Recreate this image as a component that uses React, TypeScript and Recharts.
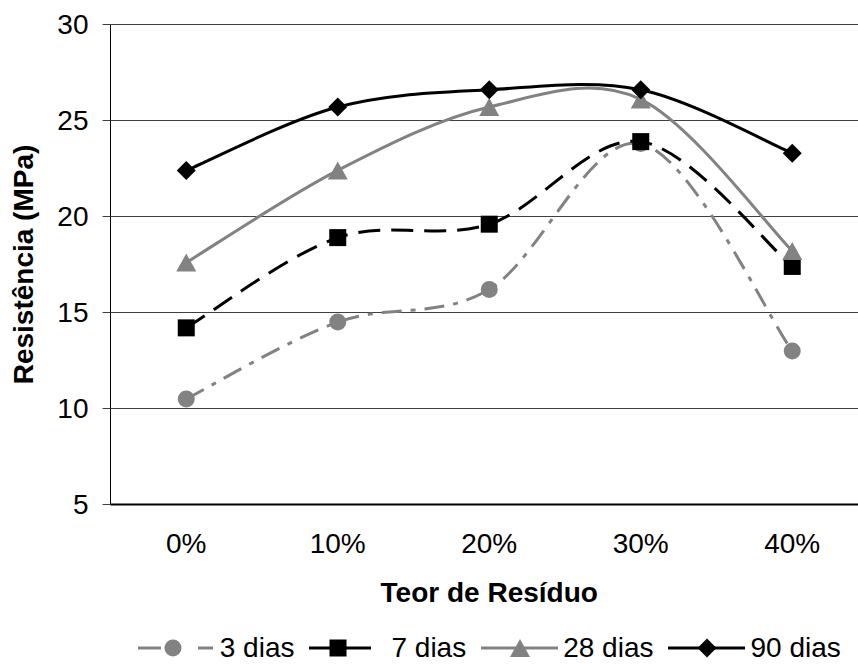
import { LineChart, Line, XAxis, YAxis, CartesianGrid, Legend } from "recharts";

const categories = ["0%", "10%", "20%", "30%", "40%"];
const dias3 = [10.5, 14.5, 16.2, 23.8, 13.0];
const dias7 = [14.2, 18.9, 19.6, 23.9, 17.4];
const dias28 = [17.6, 22.4, 25.7, 26.1, 18.2];
const dias90 = [22.4, 25.7, 26.6, 26.6, 23.3];
const yTicks = [5, 10, 15, 20, 25, 30];

const FONT = '"Liberation Sans", Arial, sans-serif';
const GRAY = "#828282";
const BLACK = "#000000";

type Marker = "circle" | "square" | "triangle" | "diamond";

const series: {
  key: string;
  name: string;
  color: string;
  dash?: string;
  marker: Marker;
  legendDash?: string;
  legendMarkerX: number;
}[] = [
  { key: "d3", name: "3 dias", color: GRAY, dash: "20 9 5 9", marker: "circle", legendDash: "23 37 15 20", legendMarkerX: 35 },
  { key: "d7", name: "7 dias", color: BLACK, dash: "22 11", marker: "square", legendDash: "62 20", legendMarkerX: 29 },
  { key: "d28", name: "28 dias", color: GRAY, marker: "triangle", legendMarkerX: 39 },
  { key: "d90", name: "90 dias", color: BLACK, marker: "diamond", legendMarkerX: 39 },
];

const data = categories.map((cat, i) => ({
  cat,
  d3: dias3[i],
  d7: dias7[i],
  d28: dias28[i],
  d90: dias90[i],
}));

// Excel-style smoothing: cardinal spline, control points at 1/6 of neighbour difference
function excelCurve(context: any) {
  let xs: number[] = [];
  let ys: number[] = [];
  return {
    areaStart() {},
    areaEnd() {},
    lineStart() {
      xs = [];
      ys = [];
    },
    point(x: number, y: number) {
      xs.push(+x);
      ys.push(+y);
    },
    lineEnd() {
      const n = xs.length;
      if (!n) return;
      context.moveTo(xs[0], ys[0]);
      for (let i = 0; i < n - 1; i++) {
        const p = Math.max(i - 1, 0);
        const q = Math.min(i + 2, n - 1);
        context.bezierCurveTo(
          xs[i] + (xs[i + 1] - xs[p]) / 6,
          ys[i] + (ys[i + 1] - ys[p]) / 6,
          xs[i + 1] - (xs[q] - xs[i]) / 6,
          ys[i + 1] - (ys[q] - ys[i]) / 6,
          xs[i + 1],
          ys[i + 1]
        );
      }
    },
  };
}

function MarkerShape({ kind, cx, cy, color }: { kind: Marker; cx: number; cy: number; color: string }) {
  if (kind === "circle") return <circle cx={cx} cy={cy} r={8.5} fill={color} />;
  if (kind === "square") return <rect x={cx - 8.5} y={cy - 8.5} width={17} height={17} fill={color} />;
  if (kind === "triangle")
    return <polygon points={`${cx},${cy - 9} ${cx + 10},${cy + 9} ${cx - 10},${cy + 9}`} fill={color} />;
  return <polygon points={`${cx},${cy - 9.5} ${cx + 9.5},${cy} ${cx},${cy + 9.5} ${cx - 9.5},${cy}`} fill={color} />;
}

const renderDot = (kind: Marker, color: string, key: string) => (props: any) => {
  const { cx, cy, index } = props;
  if (cx == null || cy == null) return <g key={`${key}-${index}`} />;
  return (
    <g key={`${key}-${index}`}>
      <MarkerShape kind={kind} cx={cx} cy={cy} color={color} />
    </g>
  );
};

const YTitle = (props: any) => {
  const vb = props.viewBox ?? { x: 0, y: 24.5, width: 110.5, height: 480 };
  const x = vb.x + 33;
  const y = vb.y + vb.height / 2;
  return (
    <text
      x={0}
      y={0}
      transform={`translate(${x},${y}) rotate(-90)`}
      textAnchor="middle"
      fontSize={28}
      fontWeight="bold"
      fill="#000"
    >
      Resistência (MPa)
    </text>
  );
};

const XTitle = (props: any) => {
  const vb = props.viewBox ?? { x: 110.5, y: 504.5, width: 757.5, height: 159.5 };
  return (
    <text x={vb.x + vb.width / 2} y={vb.y + 97.5} textAnchor="middle" fontSize={28} fontWeight="bold" fill="#000">
      Teor de Resíduo
    </text>
  );
};

const LegendContent = () => (
  <div
    style={{
      display: "flex",
      justifyContent: "center",
      alignItems: "center",
      fontSize: 28,
      lineHeight: "28px",
      color: "#000",
      fontFamily: FONT,
    }}
  >
    {series.map((s, i) => (
      <div
        key={s.key}
        style={{ display: "flex", alignItems: "center", marginRight: i === series.length - 1 ? 0 : 15 }}
      >
        <svg width={77} height={22}>
          <line
            x1={0}
            y1={11}
            x2={77}
            y2={11}
            stroke={s.color}
            strokeWidth={3}
            strokeDasharray={s.legendDash}
          />
          <MarkerShape kind={s.marker} cx={s.legendMarkerX} cy={11} color={s.color} />
        </svg>
        <span style={{ marginLeft: 5, whiteSpace: "nowrap" }}>{s.name}</span>
      </div>
    ))}
  </div>
);

export default function App() {
  return (
    <div
      style={{
        position: "fixed",
        left: 0,
        top: 0,
        width: 858,
        height: 664,
        overflow: "hidden",
        background: "#fff",
        fontFamily: FONT,
      }}
    >
      <LineChart width={870} height={664} data={data} margin={{ top: 24.5, right: 2, bottom: 0, left: 0 }}>
        <CartesianGrid vertical={false} stroke="#404040" strokeWidth={1} />
        <XAxis
          dataKey="cat"
          height={159.5}
          interval={0}
          padding={{ left: 75.75, right: 75.75 }}
          tickLine={false}
          tickSize={0}
          tickMargin={28.5}
          axisLine={{ stroke: "#000", strokeWidth: 2 }}
          tick={{ fontSize: 28, fill: "#000" }}
          label={{ content: XTitle }}
        />
        <YAxis
          width={110.5}
          domain={[5, 30]}
          ticks={yTicks}
          interval={0}
          tickSize={8}
          tickMargin={14}
          tickLine={{ stroke: "#404040" }}
          axisLine={{ stroke: "#000", strokeWidth: 1 }}
          tick={{ fontSize: 28, fill: "#000" }}
          label={{ content: YTitle }}
        />
        <Legend
          verticalAlign="middle"
          align="center"
          layout="horizontal"
          wrapperStyle={{ top: 634, left: 110.5, width: 757.5, height: 28 }}
          content={LegendContent}
        />
        {series.map((s) => (
          <Line
            key={s.key}
            type={excelCurve as any}
            dataKey={s.key}
            name={s.name}
            stroke={s.color}
            strokeWidth={3}
            strokeDasharray={s.dash}
            dot={renderDot(s.marker, s.color, s.key)}
            activeDot={false}
            isAnimationActive={false}
          />
        ))}
      </LineChart>
    </div>
  );
}
